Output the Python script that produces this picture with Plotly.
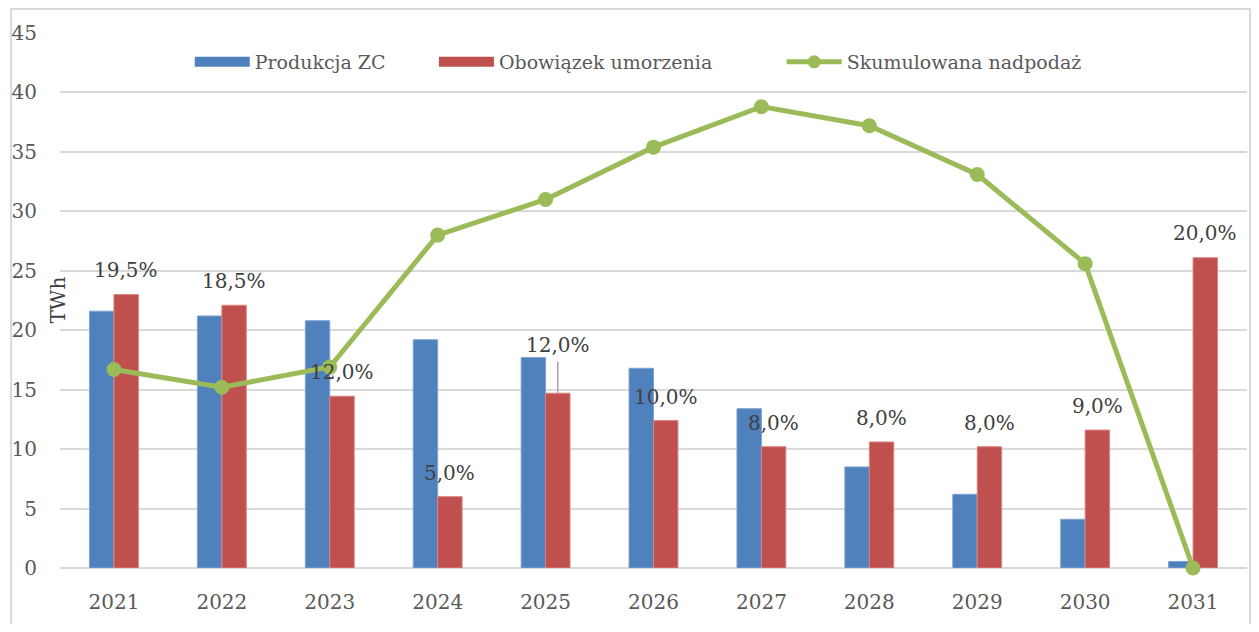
import plotly.graph_objs as go

years = ['2021', '2022', '2023', '2024', '2025', '2026', '2027', '2028', '2029', '2030', '2031']
produkcja = [21.6, 21.2, 20.8, 19.2, 17.7, 16.8, 13.4, 8.5, 6.2, 4.1, 0.55]
obowiazek = [23.0, 22.1, 14.45, 6.0, 14.7, 12.4, 10.2, 10.6, 10.2, 11.6, 26.1]
nadpodaz = [16.7, 15.2, 16.9, 28.0, 31.0, 35.4, 38.8, 37.2, 33.1, 25.6, 0.0]
udzial = ['19,5%', '18,5%', '12,0%', '5,0%', '12,0%', '10,0%', '8,0%', '8,0%', '8,0%', '9,0%', '20,0%']
# label heights as placed by hand in the original
label_y = [25.1, 24.1, 16.5, 8.0, 18.75, 14.4, 12.2, 12.6, 12.2, 13.65, 28.15]

BLUE = '#4f81bd'
RED = '#c0504d'
GREEN = '#9bbb59'
FONT = 'DejaVu Serif'

fig = go.Figure()

# Bars
fig.add_trace(go.Bar(x=years, y=produkcja, name='Produkcja ZC',
                     marker=dict(color=BLUE, line=dict(color='#7ea3d3', width=1)), showlegend=False))
fig.add_trace(go.Bar(x=years, y=obowiazek, name='Obowiązek umorzenia',
                     marker=dict(color=RED, line=dict(color='#d88583', width=1)), showlegend=False))

# Line
fig.add_trace(go.Scatter(x=years, y=nadpodaz, mode='lines+markers', name='Skumulowana nadpodaż',
                         line=dict(color=GREEN, width=5), marker=dict(color=GREEN, size=15),
                         cliponaxis=False, showlegend=False))

# Legend entries (wide swatches like the original), one legend each so the spacing matches
fig.add_trace(go.Scatter(x=[None], y=[None], mode='lines', name='Produkcja ZC',
                         line=dict(color=BLUE, width=10), legend='legend'))
fig.add_trace(go.Scatter(x=[None], y=[None], mode='lines', name='Obowiązek umorzenia',
                         line=dict(color=RED, width=10), legend='legend2'))
fig.add_trace(go.Scatter(x=[None], y=[None], mode='lines+markers', name='Skumulowana nadpodaż',
                         line=dict(color=GREEN, width=5), marker=dict(color=GREEN, size=13), legend='legend3'))

# Percentage labels over the red bars
for i, (txt, ly) in enumerate(zip(udzial, label_y)):
    fig.add_annotation(x=i, y=ly, text=txt, showarrow=False, xshift=12,
                       font=dict(family=FONT, size=20, color='#404040'))

# leader line for 2025 label
fig.add_shape(type='line', xref='x', yref='y', x0=4.113, x1=4.113, y0=14.7, y1=17.35,
              line=dict(color='#a6a6a6', width=1.5))

# Axis title
fig.add_annotation(xref='paper', yref='paper', x=0, y=0.5, xanchor='center', xshift=-3,
                   text='TWh', textangle=-90, showarrow=False,
                   font=dict(family=FONT, size=20, color='#404040'))

# outer border
fig.add_shape(type='rect', xref='paper', yref='paper', x0=-0.0412, x1=1.0025, y0=-0.2, y1=1.0449,
              line=dict(color='#d9d9d9', width=2), fillcolor='rgba(0,0,0,0)', layer='below')

leg = dict(orientation='h', yanchor='middle', y=0.9458, xanchor='left', itemwidth=55,
           font=dict(family=FONT, size=19, color='#595959'), bgcolor='rgba(255,255,255,1)')

fig.update_layout(
    width=1243, height=616,
    barmode='group', bargap=0.547, bargroupgap=0,
    paper_bgcolor='white', plot_bgcolor='white',
    font=dict(family=FONT, size=19, color='#595959'),
    margin=dict(l=50, r=4, t=25, b=56),
    legend=dict(leg, x=0.1093),
    legend2=dict(leg, x=0.315),
    legend3=dict(leg, x=0.608),
    xaxis=dict(type='category', range=[-0.5, 10.5], showgrid=False, showline=False, ticks='outside', ticklen=16,
               tickcolor='rgba(0,0,0,0)', tickfont=dict(family=FONT, size=20, color='#595959')),
    yaxis=dict(range=[0, 45], dtick=5, showgrid=True, gridcolor='#d9d9d9', gridwidth=1.5,
               zeroline=True, zerolinecolor='#d9d9d9', zerolinewidth=1.5, showline=False,
               ticks='outside', ticklen=18, tickcolor='rgba(0,0,0,0)',
               tickfont=dict(family=FONT, size=20, color='#595959')),
)

fig.write_html('out.html')
